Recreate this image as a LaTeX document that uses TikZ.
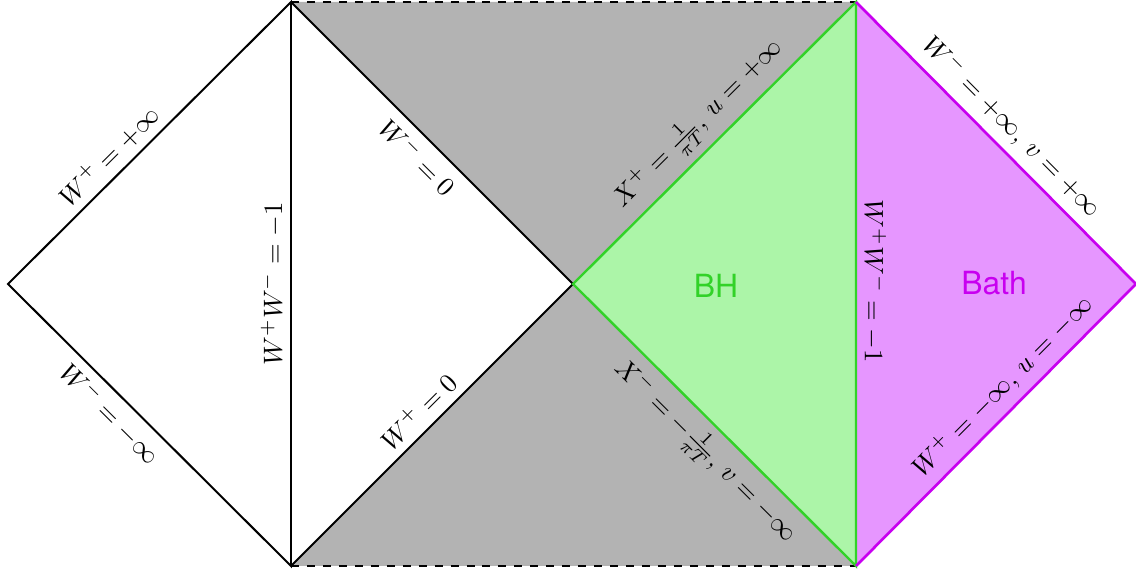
\documentclass[tikz,border=0pt]{standalone}
\usepackage{fontspec}
\newfontfamily\heros{TeX Gyre Heros}
\definecolor{bhline}{RGB}{50,210,40}
\definecolor{bhfill}{RGB}{172,245,168}
\definecolor{bathline}{RGB}{200,0,240}
\definecolor{bathfill}{RGB}{230,150,255}
\definecolor{horfill}{RGB}{179,179,179}
\begin{document}
\begin{tikzpicture}[x=0.376pt,y=-0.376pt,
  edge/.style={line width=0.75pt,line join=miter},
  bhedge/.style={line width=0.9pt,draw=bhline},
  bathedge/.style={line width=1pt,draw=bathline},
  dashedge/.style={line width=0.7pt,dashed},
  lab/.style={sloped,font=\normalsize},
  region/.style={font=\heros\large}]
\useasboundingbox (0,0) rectangle (1136,574);
\coordinate (L) at (8,284);
\coordinate (T) at (291,2);
\coordinate (B) at (291,566);
\coordinate (C) at (573,284);
\coordinate (TR) at (856,2);
\coordinate (BR) at (856,566);
\coordinate (R) at (1136,284);
% regions
\fill[horfill] (T) -- (TR) -- (C) -- cycle;
\fill[horfill] (B) -- (BR) -- (C) -- cycle;
\fill[bhfill] (C) -- (TR) -- (BR) -- cycle;
\fill[bathfill] (TR) -- (R) -- (BR) -- cycle;
% boundaries
\draw[dashedge] (T) -- (TR);
\draw[dashedge] (B) -- (BR);
\draw[edge] (T) -- (L) -- (B) -- cycle;
\draw[edge] (T) -- (C) -- (B);
\draw[bhedge] (C) -- (TR) -- (BR) -- cycle;
\draw[bathedge] (TR) -- (R) -- (BR);
% labels
\path (L) -- (T) node[lab,pos=0.405,above=-0.5pt] (l1) {$W^+=+\infty$};
\path (L) -- (B) node[lab,pos=0.41,below=-0.5pt] (l2) {$W^-=-\infty$};
\path (B) -- (T) node[lab,pos=0.50,above=-1pt] (l3) {$W^+W^-=-1$};
\path (T) -- (C) node[lab,pos=0.50,below] (l4) {$W^-=0$};
\path (B) -- (C) node[lab,pos=0.50,above] (l5) {$W^+=0$};
\path (C) -- (TR) node[lab,pos=0.505,above] (l6) {$X^+=\frac{1}{\pi T},\,u=+\infty$};
\path (C) -- (BR) node[lab,pos=0.53,below] (l7) {$X^-=-\frac{1}{\pi T},\,v=-\infty$};
\path (TR) -- (BR) node[lab,allow upside down,pos=0.495,above=-1pt] (l8) {$W^+W^-=-1$};
\path (TR) -- (R) node[lab,pos=0.50,above] (l9) {$W^-=+\infty,\,v=+\infty$};
\path (BR) -- (R) node[lab,pos=0.58,above] (l10) {$W^+=-\infty,\,u=-\infty$};
\node[region,text=bhline] (bh) at (716,286) {BH};
\node[region,text=bathline] (bath) at (994,283) {Bath};
\end{tikzpicture}
\end{document}
